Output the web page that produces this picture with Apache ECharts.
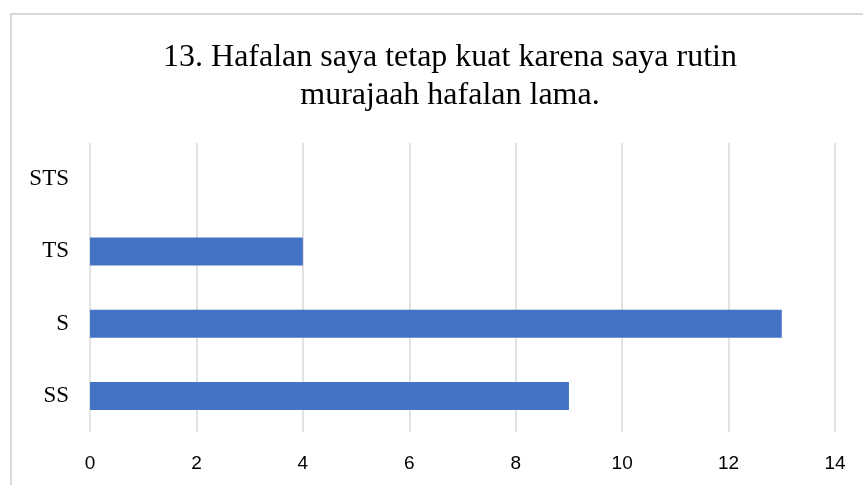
<!DOCTYPE html>
<html>
<head>
<meta charset="utf-8">
<script src="https://cdn.jsdelivr.net/npm/echarts@6/dist/echarts.min.js"></script>
<style>
  html, body { margin: 0; padding: 0; background: #fff; }
  #frame {
    position: absolute; left: 10px; top: 13px; right: 0; bottom: 0;
    border-left: 2px solid #d9d9d9; border-top: 2px solid #d9d9d9;
  }
  #chart { position: absolute; left: 0; top: 0; width: 863px; height: 485px; }
</style>
</head>
<body>
<div id="frame"></div>
<div id="chart"></div>
<script>
// kategori jawaban (dari bawah ke atas)
const categories = ['SS', 'S', 'TS', 'STS']
// jumlah responden
const counts = [9, 13, 4, 0]
const titleText = '13. Hafalan saya tetap kuat karena saya rutin\nmurajaah hafalan lama.'

const chart = echarts.init(document.getElementById('chart'))
chart.setOption({
  animation: false,
  title: {
    text: titleText,
    left: 445,
    top: 34,
    textAlign: 'center',
    textStyle: {
      fontFamily: 'Liberation Serif',
      fontWeight: 'normal',
      fontSize: 32,
      lineHeight: 38,
      color: '#000'
    }
  },
  grid: { left: 90, right: 28, top: 143, bottom: 53 },
  xAxis: {
    type: 'value',
    min: 0,
    max: 14,
    interval: 2,
    axisLine: { show: false },
    axisTick: { show: false },
    splitLine: { lineStyle: { color: '#d9d9d9', width: 1.5 } },
    axisLabel: {
      margin: 22,
      fontFamily: 'Liberation Sans',
      fontSize: 19,
      color: '#000'
    }
  },
  yAxis: {
    type: 'category',
    data: categories,
    axisLine: { show: false },
    axisTick: { show: false },
    axisLabel: {
      margin: 21,
      fontFamily: 'Liberation Serif',
      fontSize: 23,
      color: '#000'
    }
  },
  series: [{
    type: 'bar',
    data: counts,
    barWidth: 28,
    itemStyle: { color: '#4472c4' }
  }]
})
</script>
</body>
</html>
